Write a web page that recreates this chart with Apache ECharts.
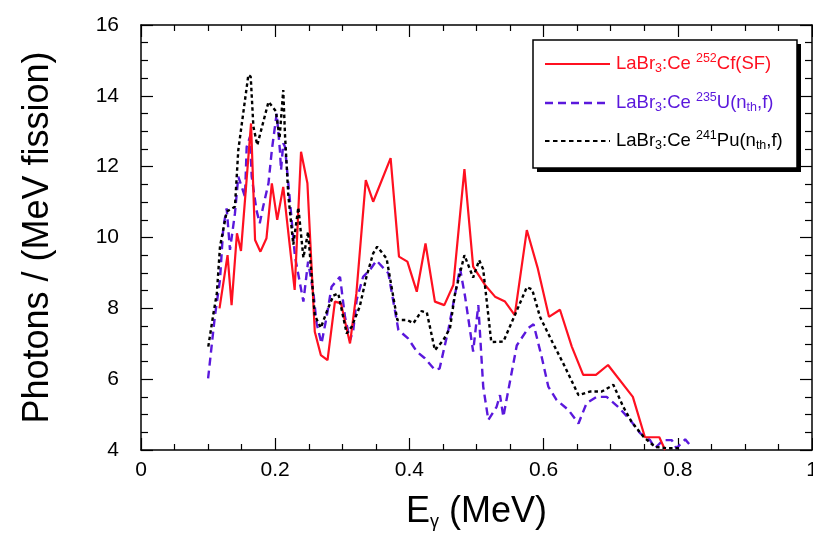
<!DOCTYPE html>
<html>
<head>
<meta charset="utf-8">
<script src="https://cdn.jsdelivr.net/npm/echarts@6/dist/echarts.min.js"></script>
<style>
html,body{margin:0;padding:0;background:#fff;}
#chart{width:813px;height:543px;}
</style>
</head>
<body>
<div id="chart"></div>
<script>
// ---- data ----
const cfX = [0.117,0.129,0.135,0.143,0.149,0.164,0.170,0.178,0.187,0.195,0.203,0.212,0.229,0.2385,0.248,0.259,0.268,0.278,0.289,0.298,0.3115,0.321,0.335,0.346,0.372,0.3845,0.397,0.411,0.424,0.438,0.452,0.4655,0.482,0.495,0.5127,0.5276,0.5425,0.557,0.575,0.591,0.608,0.6244,0.642,0.659,0.678,0.696,0.733,0.751,0.7725,0.781];
const cfY = [8.0,9.5,8.09,10.12,9.62,13.22,9.93,9.6,9.98,11.53,10.5,11.43,8.52,12.42,11.53,7.34,6.68,6.54,8.19,8.14,7.01,8.42,11.62,11.01,12.24,9.46,9.32,8.47,9.83,8.19,8.09,8.66,11.93,9.18,8.66,8.33,8.19,7.81,10.21,9.15,7.76,7.96,6.92,6.12,6.12,6.4,5.5,4.36,4.36,4.0];

const uX = [0.1,0.110,0.1177,0.1227,0.1277,0.1326,0.140,0.145,0.155,0.1575,0.1624,0.165,0.172,0.177,0.182,0.190,0.195,0.2022,0.207,0.2087,0.212,0.2146,0.2295,0.242,0.249,0.257,0.2617,0.269,0.2767,0.284,0.2966,0.304,0.3115,0.3164,0.3214,0.331,0.341,0.351,0.3686,0.3836,0.398,0.411,0.423,0.438,0.445,0.458,0.4754,0.483,0.495,0.5027,0.51,0.5176,0.53,0.535,0.54,0.56,0.577,0.585,0.597,0.607,0.6195,0.637,0.652,0.664,0.679,0.694,0.711,0.729,0.744,0.7586,0.766,0.778,0.791,0.798,0.811,0.8206];
const uY = [6.02,7.76,8.8,10.3,10.82,9.65,10.68,11.72,11.15,12.56,12.84,11.72,10.78,10.4,10.87,11.53,12.47,13.5,12.47,11.9,12.66,12.56,9.46,8.19,9.32,8.42,7.58,7.01,7.76,8.61,8.89,7.76,7.1,7.39,8.24,8.89,9.08,9.35,8.99,7.39,7.15,6.78,6.59,6.26,6.3,7.39,9.13,8.33,6.78,8.09,5.79,4.85,5.22,5.55,4.94,6.95,7.44,7.55,6.64,5.79,5.41,5.13,4.75,5.32,5.5,5.5,5.22,4.85,4.47,4.28,4.05,4.28,4.28,4.05,4.3,4.09];

const puX = [0.1003,0.108,0.113,0.1177,0.1277,0.140,0.145,0.160,0.1635,0.1675,0.1733,0.190,0.201,0.2065,0.212,0.2146,0.2195,0.227,0.2345,0.242,0.249,0.259,0.268,0.2767,0.2866,0.294,0.3065,0.314,0.326,0.336,0.346,0.352,0.366,0.382,0.397,0.406,0.418,0.426,0.438,0.4505,0.4605,0.468,0.482,0.495,0.504,0.510,0.522,0.54,0.557,0.575,0.583,0.5946,0.613,0.631,0.652,0.669,0.6866,0.704,0.7187,0.731,0.7486,0.766,0.7834,0.803];
const puY = [6.92,7.86,8.42,9.74,10.73,10.87,12.47,14.59,14.54,13.13,12.61,13.83,13.57,12.8,14.16,12.9,11.2,9.8,10.85,9.43,10.16,7.8,7.45,7.9,8.36,8.42,7.29,7.48,8.05,8.89,9.55,9.74,9.41,7.67,7.67,7.58,7.92,7.88,6.82,7.1,7.44,8.42,9.5,8.87,9.36,9.1,7.05,7.06,7.8,8.6,8.53,7.76,7.05,6.38,5.55,5.65,5.65,5.84,5.22,4.8,4.38,4.09,4.05,4.05];

const xTicks = [0, 0.2, 0.4, 0.6, 0.8, 1];
const yTicks = [4, 6, 8, 10, 12, 14, 16];

const zip = (xs, ys) => xs.map((x, i) => [x, ys[i]]);

const FONT = "'Liberation Sans', Arial, Helvetica, sans-serif";
const RED = '#ff1020';
const PURPLE = '#5a18dc';
const BLACK = '#000000';

const chart = echarts.init(document.getElementById('chart'), null, {renderer: 'canvas'});

const axisLineStyle = {color: '#000', width: 1.5};

function legendText(parts, color) {
  return {
    type: 'text',
    style: {
      text: parts,
      fill: color,
      font: '18.5px ' + FONT,
      verticalAlign: 'middle',
      rich: {
        a: {fontSize: 18.5, fontFamily: FONT, fill: color, color: color},
        sup: {fontSize: 12.5, fontFamily: FONT, fill: color, color: color, padding: [0, 0, 11, 0]},
        sub: {fontSize: 12.5, fontFamily: FONT, fill: color, color: color, padding: [9, 0, 0, 0]}
      }
    }
  };
}

const option = {
  backgroundColor: '#fff',
  animation: false,
  grid: {left: 141, right: 1, top: 25, bottom: 93, containLabel: false, outerBoundsMode: 'none'},
  xAxis: [{
    type: 'value', min: 0, max: 1, interval: 0.2,
    position: 'bottom',
    axisLine: {show: true, onZero: false, lineStyle: axisLineStyle},
    axisTick: {show: true, inside: true, length: 12, lineStyle: {color: '#000', width: 1.2}},
    minorTick: {show: true, splitNumber: 4, length: 6, lineStyle: {color: '#000', width: 1.2}},
    splitLine: {show: false},
    axisLabel: {color: '#000', fontSize: 21, fontFamily: FONT, margin: 10, hideOverlap: false,
      formatter: v => xTicks.includes(Math.round(v*10)/10) ? String(Math.round(v*10)/10) : ''},
    name: '{a|E}{s|γ}{a| (MeV)}',
    nameLocation: 'middle', nameGap: 43,
    nameTextStyle: {
      fontFamily: FONT, fontSize: 36, color: '#000',
      rich: {
        a: {fontSize: 36, fontFamily: FONT, color: '#000'},
        s: {fontSize: 18, fontFamily: FONT, color: '#000', padding: [20, 0, 0, 0]}
      }
    }
  }, {
    type: 'value', min: 0, max: 1, interval: 0.2,
    position: 'top',
    axisLine: {show: true, onZero: false, lineStyle: axisLineStyle},
    axisTick: {show: true, inside: true, length: 12, lineStyle: {color: '#000', width: 1.2}},
    minorTick: {show: true, splitNumber: 4, length: 6, lineStyle: {color: '#000', width: 1.2}},
    splitLine: {show: false},
    axisLabel: {show: false}
  }],
  yAxis: [{
    type: 'value', min: 4, max: 16, interval: 2,
    position: 'left',
    axisLine: {show: true, onZero: false, lineStyle: axisLineStyle},
    axisTick: {show: true, inside: true, length: 12, lineStyle: {color: '#000', width: 1.2}},
    minorTick: {show: true, splitNumber: 4, length: 7, lineStyle: {color: '#000', width: 1.2}},
    splitLine: {show: false},
    axisLabel: {color: '#000', fontSize: 21, fontFamily: FONT, margin: 22,
      formatter: v => yTicks.includes(v) ? String(v) : ''},
    name: 'Photons / (MeV fission)',
    nameLocation: 'middle', nameGap: 85, nameRotate: 90,
    nameTextStyle: {fontFamily: FONT, fontSize: 36, color: '#000'}
  }, {
    type: 'value', min: 4, max: 16, interval: 2,
    position: 'right',
    axisLine: {show: true, onZero: false, lineStyle: axisLineStyle},
    axisTick: {show: true, inside: true, length: 12, lineStyle: {color: '#000', width: 1.2}},
    minorTick: {show: true, splitNumber: 4, length: 7, lineStyle: {color: '#000', width: 1.2}},
    splitLine: {show: false},
    axisLabel: {show: false}
  }],
  series: [{
    name: 'Cf', type: 'line', xAxisIndex: 0, yAxisIndex: 0,
    data: zip(cfX, cfY), showSymbol: false, symbol: 'none', clip: true, z: 3,
    lineStyle: {color: RED, width: 2.2, type: 'solid'}
  }, {
    name: 'U', type: 'line', xAxisIndex: 0, yAxisIndex: 0,
    data: zip(uX, uY), showSymbol: false, symbol: 'none', clip: true, z: 2,
    lineStyle: {color: PURPLE, width: 2.4, type: [8, 5]}
  }, {
    name: 'Pu', type: 'line', xAxisIndex: 0, yAxisIndex: 0,
    data: zip(puX, puY), showSymbol: false, symbol: 'none', clip: true, z: 4,
    lineStyle: {color: BLACK, width: 2.4, type: [3.5, 3]}
  }],
  graphic: [
    {type: 'rect', shape: {x: 537, y: 44, width: 264, height: 128}, style: {fill: '#000'}, z: 100},
    {type: 'rect', shape: {x: 533, y: 40, width: 264, height: 128}, style: {fill: '#fff', stroke: '#000', lineWidth: 1.5}, z: 101},
    {type: 'line', shape: {x1: 545, y1: 64, x2: 610, y2: 64}, style: {stroke: RED, lineWidth: 2}, z: 102},
    {type: 'line', shape: {x1: 545, y1: 103, x2: 610, y2: 103}, style: {stroke: PURPLE, lineWidth: 2.4, lineDash: [8, 5]}, z: 102},
    {type: 'line', shape: {x1: 545, y1: 141, x2: 610, y2: 141}, style: {stroke: BLACK, lineWidth: 2, lineDash: [4.5, 3.5]}, z: 102},
    Object.assign(legendText('{a|LaBr}{sub|3}{a|:Ce }{sup|252}{a|Cf(SF)}', RED), {x: 616, y: 64, z: 103}),
    Object.assign(legendText('{a|LaBr}{sub|3}{a|:Ce }{sup|235}{a|U(n}{sub|th}{a|,f)}', PURPLE), {x: 616, y: 103, z: 103}),
    Object.assign(legendText('{a|LaBr}{sub|3}{a|:Ce }{sup|241}{a|Pu(n}{sub|th}{a|,f)}', BLACK), {x: 616, y: 141, z: 103})
  ]
};

chart.setOption(option);
</script>
</body>
</html>
